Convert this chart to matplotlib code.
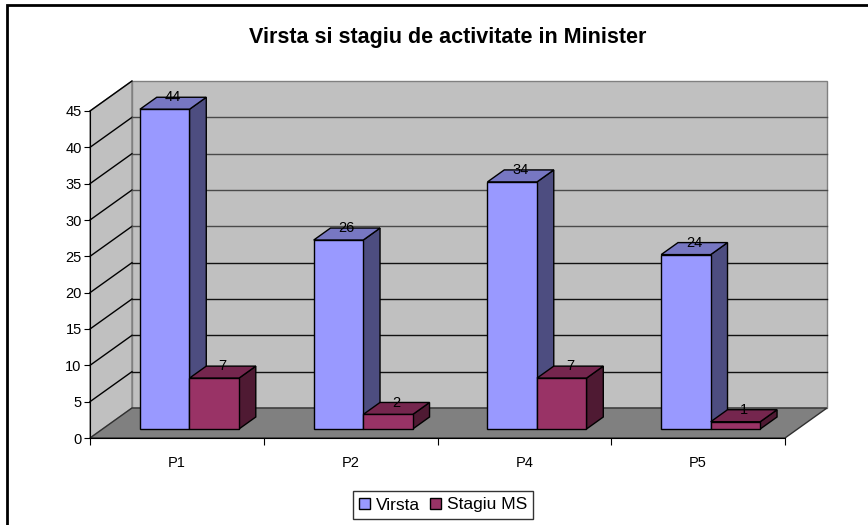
import matplotlib
matplotlib.use("Agg")
import matplotlib.pyplot as plt
from matplotlib.patches import Polygon, Patch, Rectangle

plt.rcParams['font.family'] = ['Liberation Sans', 'DejaVu Sans']

# data
categories = ['P1', 'P2', 'P4', 'P5']
virsta = [44, 26, 34, 24]
stagiu = [7, 2, 7, 1]
series_names = ['Virsta', 'Stagiu MS']
y_ticks = [0, 5, 10, 15, 20, 25, 30, 35, 40, 45]

# colours (front, top, side) like the old Excel 3D look
blue = ('#9999FF', '#7777C2', '#4D4D80')
maroon = ('#993366', '#75264E', '#4F1A33')

# oblique depth offset of the floor, in data units
DX = 0.2417
DY = 4.13


def proj(x, v, d):
    return (x + d * DX, v + d * DY)


fig = plt.figure(figsize=(8.68, 5.25), dpi=100)
ax = fig.add_axes([90 / 868, 87 / 525, 695 / 868, 327 / 525])
ax.set_xlim(0, len(categories))
ax.set_ylim(0, 45)
ax.patch.set_visible(False)
ncat = len(categories)
ymax = y_ticks[-1]

# walls and floor
side = Polygon([proj(0, 0, 0), proj(0, 0, 1), proj(0, ymax, 1), proj(0, ymax, 0)],
               closed=True, facecolor='#C0C0C0', edgecolor='#808080', lw=1, clip_on=False, zorder=1)
back = Polygon([proj(0, 0, 1), proj(ncat, 0, 1), proj(ncat, ymax, 1), proj(0, ymax, 1)],
               closed=True, facecolor='#C0C0C0', edgecolor='#808080', lw=1, clip_on=False, zorder=1)
floor = Polygon([proj(0, 0, 0), proj(ncat, 0, 0), proj(ncat, 0, 1), proj(0, 0, 1)],
                closed=True, facecolor='#808080', edgecolor='#303030', lw=1, clip_on=False, zorder=1.1)
for p in (side, back, floor):
    ax.add_patch(p)

# gridlines (upper ones look a bit lighter in the original)
for v in y_ticks[1:]:
    x0, y0 = proj(0, v, 0)
    x1, y1 = proj(0, v, 1)
    ax.plot([x0, x1], [y0, y1], color='black', lw=1, clip_on=False, zorder=1.2)
    if v < ymax:
        gc = '#4a4a4a' if v >= 25 else '#111111'
        x2, y2 = proj(ncat, v, 1)
        ax.plot([x1, x2], [y1, y2], color=gc, lw=1, clip_on=False, zorder=1.2)


def draw_bar(x0, x1, h, cols):
    d0, d1 = 0.3, 0.7
    front = [proj(x0, 0, d0), proj(x1, 0, d0), proj(x1, h, d0), proj(x0, h, d0)]
    top = [proj(x0, h, d0), proj(x1, h, d0), proj(x1, h, d1), proj(x0, h, d1)]
    rside = [proj(x1, 0, d0), proj(x1, 0, d1), proj(x1, h, d1), proj(x1, h, d0)]
    for pts, c in ((rside, cols[2]), (top, cols[1]), (front, cols[0])):
        ax.add_patch(Polygon(pts, closed=True, facecolor=c, edgecolor='black',
                             lw=1, clip_on=False, zorder=2))
    lx, ly = proj((x0 + x1) / 2, h, 0.5)
    ax.text(lx, ly + 0.8, str(h), ha='center', va='center', fontsize=10.5, zorder=3)


width = 0.285
for i in range(ncat):
    draw_bar(i + 0.5 - width, i + 0.5, virsta[i], blue)
    draw_bar(i + 0.5, i + 0.5 + width, stagiu[i], maroon)

# axes
for s in ('top', 'right'):
    ax.spines[s].set_visible(False)
ax.spines['left'].set_zorder(3)
ax.spines['bottom'].set_zorder(3)
ax.set_yticks(y_ticks)
ax.tick_params(axis='y', length=4, pad=2, labelsize=10.5)
ax.set_xticks(range(ncat + 1))
ax.set_xticklabels([])
ax.set_xticks([i + 0.5 for i in range(ncat)], minor=True)
ax.set_xticklabels(categories, minor=True)
ax.tick_params(axis='x', which='major', length=5)
ax.tick_params(axis='x', which='minor', length=0, pad=13, labelsize=10.5)

fig.text(448 / 868, 1 - 38 / 525, 'Virsta si stagiu de activitate in Minister',
         ha='center', va='center', fontsize=15.5, fontweight='bold')

handles = [Patch(facecolor=blue[0], edgecolor='black'),
           Patch(facecolor=maroon[0], edgecolor='black')]
leg = fig.legend(handles, series_names, loc='center', bbox_to_anchor=(443 / 868, 1 - 505 / 525),
                 ncol=2, fontsize=12.5, frameon=True, fancybox=False, edgecolor='black',
                 handlelength=0.65, handleheight=0.65, handletextpad=0.3, columnspacing=0.6,
                 borderpad=0.35, borderaxespad=0)
leg.get_frame().set_linewidth(1)

# outer chart border (runs off the right and bottom edge)
fig.patches.append(Rectangle((7 / 868, -0.1), 2, 1.1 - 5 / 525, transform=fig.transFigure,
                             fill=False, edgecolor='black', lw=2, figure=fig))

fig.savefig('out.png', dpi=100)
